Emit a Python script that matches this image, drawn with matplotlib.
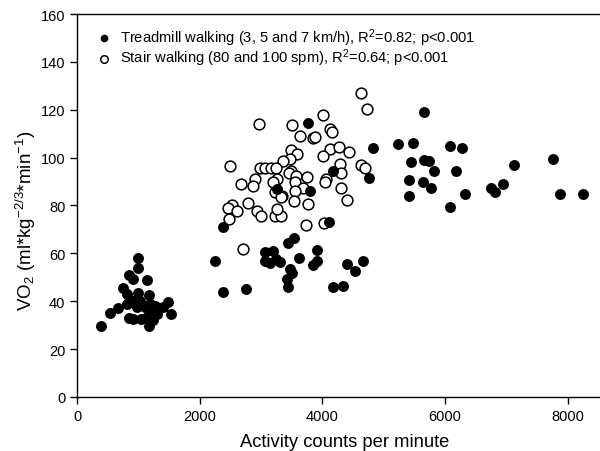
import matplotlib.pyplot as plt

plt.rcParams["font.family"] = ["Liberation Sans", "DejaVu Sans"]
plt.rcParams["mathtext.fontset"] = "custom"
plt.rcParams["mathtext.rm"] = "Liberation Sans"
plt.rcParams["mathtext.it"] = "Liberation Sans:italic"
plt.rcParams["mathtext.default"] = "regular"

# treadmill walking (filled markers)
treadmill_counts = [
    986, 996, 849, 904, 1133, 751, 816, 996, 1176, 806, 914, 1024, 1187, 1269,
    1322, 1404, 1476, 1530, 1214, 1105, 669, 534, 382, 849, 914, 1035, 1133,
    1231, 1171, 1306, 980,
    2384, 2248, 3064, 3200, 3064, 3146, 3309, 3244, 3445, 3538, 3625, 3908,
    3918, 3853, 3473, 3500, 3429, 3445, 4398, 4534, 4659, 4180, 4343, 2384,
    2754, 4104, 3255, 3799, 4180, 3761,
    4822, 4767, 5231, 5476, 5660, 6085, 6276, 5443, 5660, 5747, 5824, 6183,
    5420, 5639, 5780, 5415, 6330, 6085, 6749, 6824, 6955, 7130, 7767, 7876,
    8245,
]
treadmill_vo2 = [
    58, 54, 51, 49.5, 49, 45.5, 43, 43.5, 42.5, 39, 40, 40, 39, 38,
    37, 37.5, 39.5, 34.5, 36, 37.5, 37, 35, 29.5, 33, 32.5, 32.5, 33.5,
    32, 29.5, 34.5, 37.5,
    71, 57, 60.5, 61, 57, 56, 56.5, 57.5, 64.5, 66.5, 58, 61.5,
    57, 55, 53.5, 52, 49.5, 46, 55.5, 52.5, 57, 46, 46.5, 44,
    45, 73, 87, 86, 94.5, 114.3,
    104, 91.5, 105.5, 106, 119, 105, 104, 98, 99, 98.5, 94.5, 94.5,
    90.5, 90, 87.5, 84, 85, 79.5, 87.5, 85.5, 89, 97, 99.5, 85,
    85,
]

# stair walking (open markers)
stair_counts = [
    4632, 4725, 4017, 2967, 3505, 4126, 4158, 3636, 3853, 3886, 3494, 4126,
    4278, 4431, 3592, 3473, 3364, 4017, 4284, 4637, 4697, 2493, 2983, 3069,
    3158, 3244, 3484, 3451, 3571, 3745, 4310, 2901, 3255, 2668, 2864, 3190,
    3554, 3690, 4060, 4050, 4310, 3228, 3342, 3320, 3554, 3538, 4398, 2787,
    2526, 2465, 2602, 2471, 2939, 2994, 3228, 3326, 3265, 3761, 3734, 4028,
    2711,
]
stair_vo2 = [
    127, 120.5, 118, 114, 113.5, 112, 110.5, 109, 108, 108.5, 103, 103.5,
    104.5, 102.5, 101.5, 99.5, 98.5, 100.5, 97.5, 97, 95.5, 96.5, 95.5, 95.5,
    95.5, 95.5, 94.5, 93.5, 92.5, 92, 93.5, 91, 91, 89, 88, 90,
    90, 87.5, 91, 90, 87.5, 85.5, 84, 83.5, 86, 82, 82.5, 81,
    80, 79, 77.5, 74.5, 77.5, 75.5, 75.5, 75.5, 78.5, 80.5, 72, 72.5,
    62,
]

fig = plt.figure(figsize=(6, 4.52), dpi=100)
ax = fig.add_axes([0.1288, 0.1195, 0.8712, 0.8473])

st = ax.scatter(stair_counts, stair_vo2, s=60, facecolors="white",
                edgecolors="black", linewidths=1.1, zorder=2,
                label="Stair walking (80 and 100 spm), R$^2$=0.64; p<0.001")
tm = ax.scatter(treadmill_counts, treadmill_vo2, s=62, color="black",
                linewidths=0, zorder=3,
                label="Treadmill walking (3, 5 and 7 km/h), R$^2$=0.82; p<0.001")

ax.set_xlim(0, 8530)
ax.set_ylim(0, 160)
ax.set_xticks([0, 2000, 4000, 6000, 8000])
ax.set_yticks(range(0, 161, 20))
ax.tick_params(direction="out", length=5, width=1, labelsize=10.5,
               top=False, right=False)
ax.spines["right"].set_visible(False)
for side in ["left", "bottom", "top"]:
    ax.spines[side].set_linewidth(1)

ax.set_xlabel("Activity counts per minute", fontsize=13.2)
ax.xaxis.set_label_coords(0.512, -0.095)
ax.set_ylabel("VO$_2$ (ml*kg$^{-2/3}$*min$^{-1}$)", fontsize=13.5)
ax.yaxis.set_label_coords(-0.076, 0.462)

ax.legend([tm, st], [tm.get_label(), st.get_label()], loc="upper left",
          frameon=False, fontsize=10.6, handlelength=1.0, handletextpad=0.6,
          labelspacing=-0.1, borderaxespad=0, borderpad=0,
          bbox_to_anchor=(0.037, 0.967), markerscale=0.7)

fig.savefig("out.png", dpi=100)
